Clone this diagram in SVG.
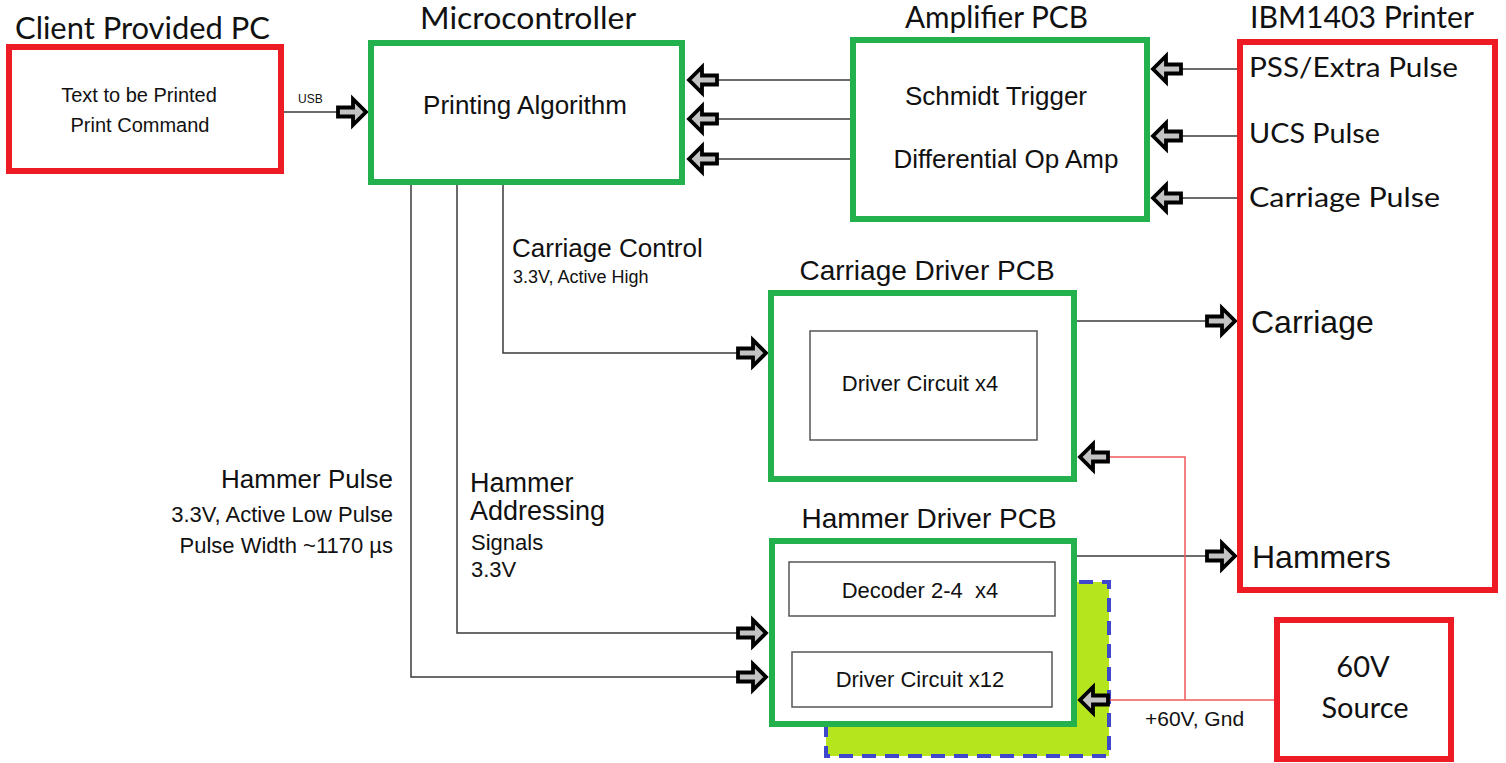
<svg xmlns="http://www.w3.org/2000/svg" width="1506" height="763" viewBox="0 0 1506 763">
<style>
.red{fill:#fff;stroke:#ed1c24;stroke-width:6}
.grn{fill:#fff;stroke:#22b14c;stroke-width:6}
.inner{fill:#fff;stroke:#555;stroke-width:1.5}
.ln{fill:none;stroke:#3a3a3a;stroke-width:1.5}
.rl{fill:none;stroke:#f25a5a;stroke-width:1.5}
.cal{font-family:Lato,"Open Sans",sans-serif;fill:#111}
.ar{font-family:"Liberation Sans",Arial,sans-serif;fill:#111}
.arw{fill:#c3c3c3;stroke:#000;stroke-width:3.8;stroke-linejoin:miter}
</style>
<defs>
<path id="ah" class="arw" d="M-28,-4.5 L-13,-4.5 L-13,-13 L0,0 L-13,13 L-13,4.5 L-28,4.5 Z"/>
</defs>

<g id="hammer-backplate">
<rect x="826" y="582" width="283" height="174" fill="#b5e61d" stroke="#3f48cc" stroke-width="4" stroke-dasharray="14,9"/>
</g>

<g id="connectors">
<line class="ln" x1="230" y1="112" x2="338" y2="112"/>
<line class="ln" x1="850" y1="80" x2="714" y2="80"/>
<line class="ln" x1="850" y1="119" x2="714" y2="119"/>
<line class="ln" x1="850" y1="159" x2="714" y2="159"/>
<line class="ln" x1="1237" y1="69" x2="1178" y2="69"/>
<line class="ln" x1="1237" y1="136" x2="1178" y2="136"/>
<line class="ln" x1="1237" y1="198" x2="1178" y2="198"/>
<polyline class="ln" points="503,185 503,353 740,353"/>
<polyline class="ln" points="457,185 457,633 740,633"/>
<polyline class="ln" points="411,185 411,677 740,677"/>
<line class="ln" x1="1077" y1="321" x2="1208" y2="321"/>
<line class="ln" x1="1077" y1="556" x2="1208" y2="556"/>
<polyline class="rl" points="1275,700 1105,700"/>
<polyline class="rl" points="1185,700 1185,457 1105,457"/>
<line class="ln" x1="916" y1="616" x2="916" y2="652" stroke-width="1.2"/>
<polyline class="ln" points="906,642 916,652 926,642" stroke-width="1.2"/>
<use href="#ah" transform="translate(366,112)"/>
<use href="#ah" transform="translate(689,80) rotate(180)"/>
<use href="#ah" transform="translate(689,119) rotate(180)"/>
<use href="#ah" transform="translate(689,159) rotate(180)"/>
<use href="#ah" transform="translate(1153,69) rotate(180)"/>
<use href="#ah" transform="translate(1153,136) rotate(180)"/>
<use href="#ah" transform="translate(1153,198) rotate(180)"/>
<use href="#ah" transform="translate(766,353)"/>
<use href="#ah" transform="translate(766,633)"/>
<use href="#ah" transform="translate(766,677)"/>
<use href="#ah" transform="translate(1235,321)"/>
<use href="#ah" transform="translate(1235,556)"/>
<use href="#ah" transform="translate(1080,457) rotate(180)"/>
<use href="#ah" transform="translate(1080,700) rotate(180)"/>
<text class="ar" x="298" y="103" font-size="12">USB</text>
<text class="ar" x="512" y="257" font-size="26">Carriage Control</text>
<text class="ar" x="513" y="283" font-size="18">3.3V, Active High</text>
<text class="ar" x="393" y="488" font-size="26" text-anchor="end">Hammer Pulse</text>
<text class="ar" x="393" y="522" font-size="22" text-anchor="end">3.3V, Active Low Pulse</text>
<text class="ar" x="393" y="553" font-size="22" text-anchor="end">Pulse Width ~1170 µs</text>
<text class="ar" x="470" y="492" font-size="27">Hammer</text>
<text class="ar" x="470" y="520" font-size="27">Addressing</text>
<text class="ar" x="471" y="550" font-size="22">Signals</text>
<text class="ar" x="471" y="577" font-size="22">3.3V</text>
<text class="ar" x="1145" y="726" font-size="21">+60V, Gnd</text>
</g>

<g id="client-pc">
<rect class="red" x="9" y="47" width="272" height="124" stroke-width="4.5"/>
<text class="cal" x="15" y="39" font-size="30" textLength="255" lengthAdjust="spacingAndGlyphs">Client Provided PC</text>
<text class="ar" x="139" y="102" font-size="20" text-anchor="middle">Text to be Printed</text>
<text class="ar" x="140" y="132" font-size="20" text-anchor="middle">Print Command</text>
</g>

<g id="microcontroller">
<rect class="grn" x="371" y="43" width="311" height="139"/>
<text class="cal" x="420" y="29" font-size="30" textLength="216" lengthAdjust="spacingAndGlyphs">Microcontroller</text>
<text class="ar" x="525" y="114" font-size="26" text-anchor="middle">Printing Algorithm</text>
</g>

<g id="amplifier-pcb">
<rect class="grn" x="853" y="40" width="294" height="179"/>
<text class="cal" x="905" y="28" font-size="30" textLength="183" lengthAdjust="spacingAndGlyphs">Amplifier PCB</text>
<text class="ar" x="996" y="105" font-size="26" text-anchor="middle">Schmidt Trigger</text>
<text class="ar" x="1006" y="168" font-size="26" text-anchor="middle">Differential Op Amp</text>
</g>

<g id="ibm1403-printer">
<rect class="red" x="1240" y="42" width="255" height="548"/>
<text class="cal" x="1250" y="28" font-size="30" textLength="224" lengthAdjust="spacingAndGlyphs">IBM1403 Printer</text>
<text class="cal" x="1249" y="77" font-size="26" textLength="209" lengthAdjust="spacingAndGlyphs">PSS/Extra Pulse</text>
<text class="cal" x="1249" y="143" font-size="26" textLength="131" lengthAdjust="spacingAndGlyphs">UCS Pulse</text>
<text class="cal" x="1249" y="207" font-size="26" textLength="191" lengthAdjust="spacingAndGlyphs">Carriage Pulse</text>
<text class="ar" x="1251" y="333" font-size="32">Carriage</text>
<text class="ar" x="1252" y="568" font-size="32">Hammers</text>
</g>

<g id="carriage-driver-pcb">
<rect class="grn" x="771" y="293" width="303" height="186"/>
<text class="ar" x="927" y="280" font-size="28" text-anchor="middle">Carriage Driver PCB</text>
<rect class="inner" x="810" y="331" width="227" height="109"/>
<text class="ar" x="920" y="391" font-size="22" text-anchor="middle">Driver Circuit x4</text>
</g>

<g id="hammer-driver-pcb">
<rect class="grn" x="772" y="541" width="302" height="183"/>
<text class="ar" x="929" y="528" font-size="28" text-anchor="middle">Hammer Driver PCB</text>
<rect class="inner" x="789" y="562" width="266" height="54"/>
<text class="ar" x="920" y="598" font-size="22" text-anchor="middle" xml:space="preserve">Decoder 2-4  x4</text>
<rect class="inner" x="792" y="652" width="260" height="55"/>
<text class="ar" x="920" y="687" font-size="22" text-anchor="middle">Driver Circuit x12</text>
</g>

<g id="source-60v">
<rect class="red" x="1277" y="620" width="174" height="139"/>
<text class="cal" x="1363" y="677" font-size="29" text-anchor="middle">60V</text>
<text class="cal" x="1365" y="718" font-size="29" text-anchor="middle">Source</text>
</g>
</svg>
